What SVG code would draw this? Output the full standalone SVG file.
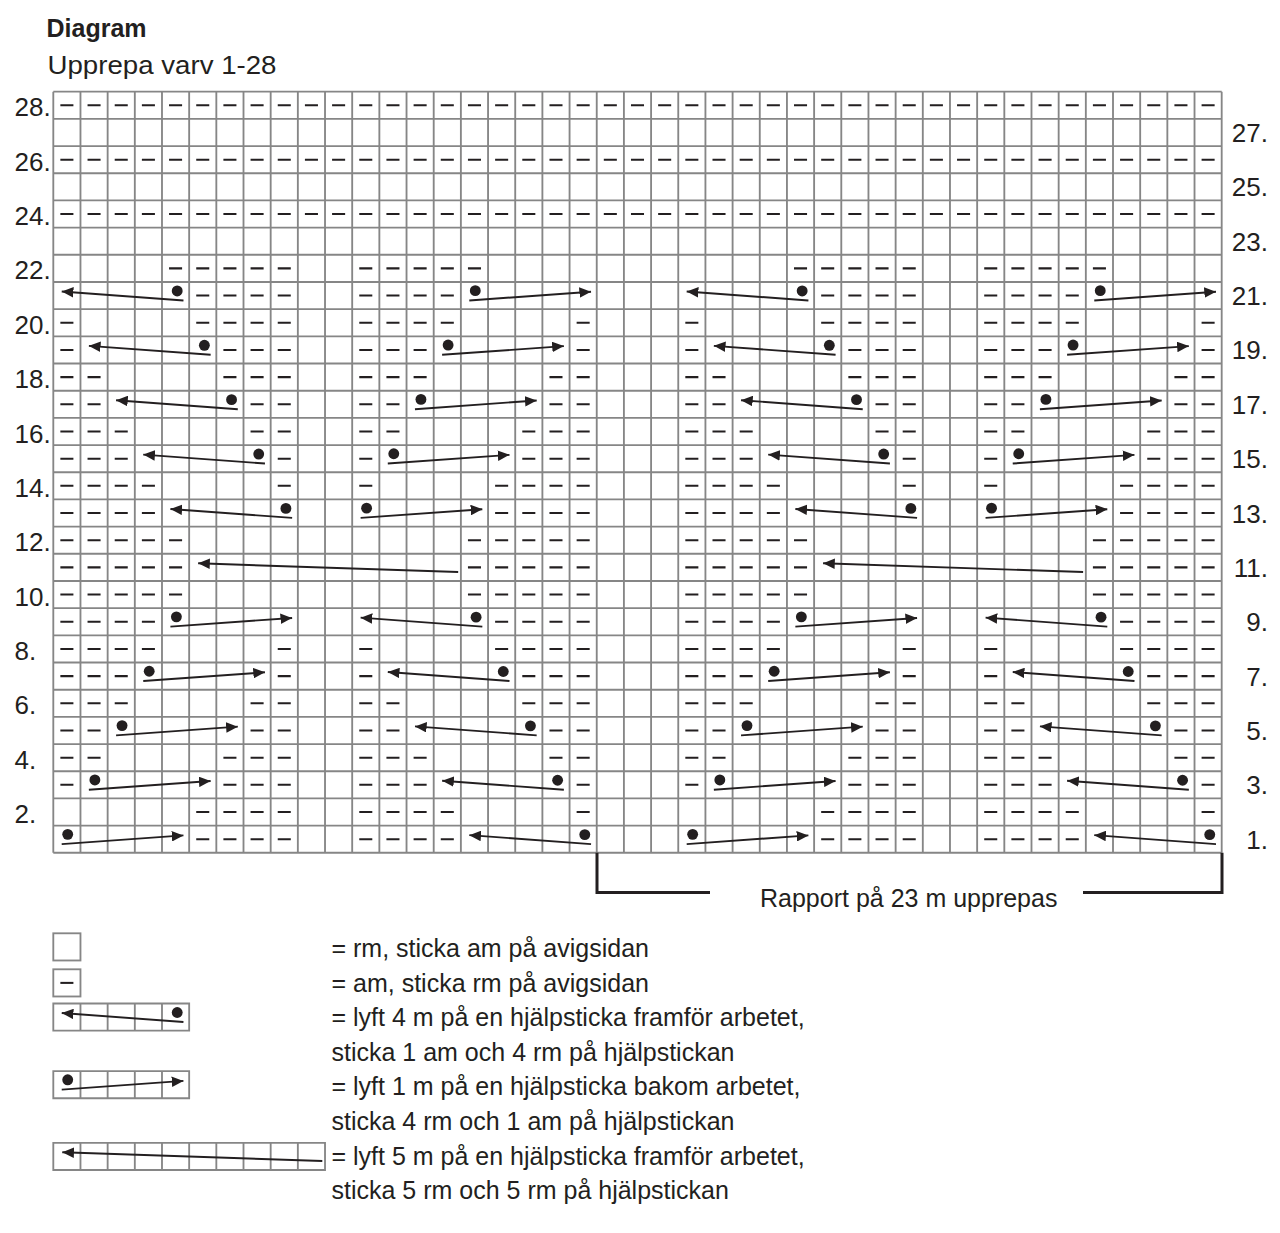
<svg xmlns="http://www.w3.org/2000/svg" xmlns:xlink="http://www.w3.org/1999/xlink" width="1280" height="1233" viewBox="0 0 1280 1233">
<style>
.t{font-family:"Liberation Sans",Arial,sans-serif;fill:#231f20}
.grid{fill:none;stroke:#868686;stroke-width:0.068}
.dr{fill:none;stroke:#231f20;stroke-width:0.075;stroke-dasharray:0.48 0.52;stroke-dashoffset:0.74}
.ln{fill:none;stroke:#231f20;stroke-width:0.07}
.dot{fill:#231f20}
.br{fill:none;stroke:#231f20;stroke-width:3}
</style>
<defs>
<marker id="ah" viewBox="0 0 10 9" refX="10" refY="4.5" markerUnits="userSpaceOnUse" markerWidth="0.43" markerHeight="0.387" orient="auto"><path d="M0 0L10 4.5L0 9z" fill="#231f20"/></marker>
<g id="cA"><path class="ln" d="M4.79 0.68L0.31 0.35" marker-end="url(#ah)"/><circle class="dot" cx="4.56" cy="0.33" r="0.2"/></g>
<g id="cB"><path class="ln" d="M0.31 0.68L4.79 0.36" marker-end="url(#ah)"/><circle class="dot" cx="0.53" cy="0.32" r="0.2"/></g>
<g id="cC"><path class="ln" d="M9.9 0.67L0.33 0.35" marker-end="url(#ah)"/></g>
<g id="rep">
<path class="dr" d="M8 27.5H12M14 27.5H18M8 26.5H12M14 26.5H18M22 26.5H23M3 25.5H4M9 25.5H12M14 25.5H17M22 25.5H23M3 24.5H5M9 24.5H12M14 24.5H17M21 24.5H23M3 23.5H5M10 23.5H12M14 23.5H16M21 23.5H23M3 22.5H6M10 22.5H12M14 22.5H16M20 22.5H23M3 21.5H6M11 21.5H12M14 21.5H15M20 21.5H23M3 20.5H7M11 20.5H12M14 20.5H15M19 20.5H23M3 19.5H7M19 19.5H23M3 18.5H8M18 18.5H23M3 17.5H8M18 17.5H23M3 16.5H8M18 16.5H23M3 15.5H7M19 15.5H23M3 14.5H7M11 14.5H12M14 14.5H15M19 14.5H23M3 13.5H6M11 13.5H12M14 13.5H15M20 13.5H23M3 12.5H6M10 12.5H12M14 12.5H16M20 12.5H23M3 11.5H5M10 11.5H12M14 11.5H16M21 11.5H23M3 10.5H5M9 10.5H12M14 10.5H17M21 10.5H23M3 9.5H4M9 9.5H12M14 9.5H17M22 9.5H23M3 8.5H4M8 8.5H12M14 8.5H18M22 8.5H23M8 7.5H12M14 7.5H18M7 6.5H12M14 6.5H19"/>
<use href="#cB" x="3" y="27"/><use href="#cA" x="18" y="27"/>
<use href="#cB" x="4" y="25"/><use href="#cA" x="17" y="25"/>
<use href="#cB" x="5" y="23"/><use href="#cA" x="16" y="23"/>
<use href="#cB" x="6" y="21"/><use href="#cA" x="15" y="21"/>
<use href="#cB" x="7" y="19"/><use href="#cA" x="14" y="19"/>
<use href="#cC" x="8" y="17"/>
<use href="#cA" x="7" y="15"/><use href="#cB" x="14" y="15"/>
<use href="#cA" x="6" y="13"/><use href="#cB" x="15" y="13"/>
<use href="#cA" x="5" y="11"/><use href="#cB" x="16" y="11"/>
<use href="#cA" x="4" y="9"/><use href="#cB" x="17" y="9"/>
<use href="#cA" x="3" y="7"/><use href="#cB" x="18" y="7"/>
</g>
</defs>
<rect width="1280" height="1233" fill="#ffffff"/>
<g id="title">
<text class="t" x="46.5" y="37.3" font-size="25" font-weight="bold">Diagram</text>
<text class="t" x="47.5" y="74" font-size="25.5" textLength="229" lengthAdjust="spacingAndGlyphs">Upprepa varv 1-28</text>
</g>
<g id="chart" transform="translate(53.3 91.7) scale(27.172 27.182)">
<path class="grid" d="M0 0V28M1 0V28M2 0V28M3 0V28M4 0V28M5 0V28M6 0V28M7 0V28M8 0V28M9 0V28M10 0V28M11 0V28M12 0V28M13 0V28M14 0V28M15 0V28M16 0V28M17 0V28M18 0V28M19 0V28M20 0V28M21 0V28M22 0V28M23 0V28M24 0V28M25 0V28M26 0V28M27 0V28M28 0V28M29 0V28M30 0V28M31 0V28M32 0V28M33 0V28M34 0V28M35 0V28M36 0V28M37 0V28M38 0V28M39 0V28M40 0V28M41 0V28M42 0V28M43 0V28M0 0H43M0 1H43M0 2H43M0 3H43M0 4H43M0 5H43M0 6H43M0 7H43M0 8H43M0 9H43M0 10H43M0 11H43M0 12H43M0 13H43M0 14H43M0 15H43M0 16H43M0 17H43M0 18H43M0 19H43M0 20H43M0 21H43M0 22H43M0 23H43M0 24H43M0 25H43M0 26H43M0 27H43M0 28H43"/>
<path class="dr" d="M0 0.5H43M0 2.5H43M0 4.5H43"/>
<use href="#rep" x="-3" y="0"/>
<use href="#rep" x="20" y="0"/>
</g>
<g id="rows-left" class="t" font-size="26">
<text class="t" x="14.5" y="116.3">28.</text>
<text class="t" x="14.5" y="170.7">26.</text>
<text class="t" x="14.5" y="225">24.</text>
<text class="t" x="14.5" y="279.4">22.</text>
<text class="t" x="14.5" y="333.8">20.</text>
<text class="t" x="14.5" y="388.1">18.</text>
<text class="t" x="14.5" y="442.5">16.</text>
<text class="t" x="14.5" y="496.8">14.</text>
<text class="t" x="14.5" y="551.2">12.</text>
<text class="t" x="14.5" y="605.6">10.</text>
<text class="t" x="14.5" y="659.9">8.</text>
<text class="t" x="14.5" y="714.3">6.</text>
<text class="t" x="14.5" y="768.6">4.</text>
<text class="t" x="14.5" y="823">2.</text>
</g>
<g id="rows-right" class="t" font-size="26" text-anchor="end">
<text class="t" x="1268" y="142">27.</text>
<text class="t" x="1268" y="196.3">25.</text>
<text class="t" x="1268" y="250.7">23.</text>
<text class="t" x="1268" y="305.1">21.</text>
<text class="t" x="1268" y="359.4">19.</text>
<text class="t" x="1268" y="413.8">17.</text>
<text class="t" x="1268" y="468.2">15.</text>
<text class="t" x="1268" y="522.5">13.</text>
<text class="t" x="1268" y="576.9">11.</text>
<text class="t" x="1268" y="631.2">9.</text>
<text class="t" x="1268" y="685.6">7.</text>
<text class="t" x="1268" y="740">5.</text>
<text class="t" x="1268" y="794.3">3.</text>
<text class="t" x="1268" y="848.7">1.</text>
</g>
<g id="repeat-bracket">
<path class="br" d="M597 852.8V892.5H710M1083 892.5H1222V852.8"/>
<text class="t" x="760" y="907" font-size="25">Rapport på 23 m upprepas</text>
</g>
<g id="legend">
<g id="key-knit" transform="translate(53.3 933.3) scale(27.172 27.182)"><rect class="grid" x="0" y="0" width="1" height="1"/></g>
<g id="key-purl" transform="translate(53.3 969.3) scale(27.172 27.182)"><rect class="grid" x="0" y="0" width="1" height="1"/><path class="dr" d="M0 0.5H1"/></g>
<g id="key-a" transform="translate(53.3 1003.5) scale(27.172 27.182)"><path class="grid" d="M0 0H5V1H0ZM1 0V1M2 0V1M3 0V1M4 0V1"/><use href="#cA"/></g>
<g id="key-b" transform="translate(53.3 1071.1) scale(27.172 27.182)"><path class="grid" d="M0 0H5V1H0ZM1 0V1M2 0V1M3 0V1M4 0V1"/><use href="#cB"/></g>
<g id="key-c" transform="translate(53.3 1142.8) scale(27.172 27.182)"><path class="grid" d="M0 0H10V1H0ZM1 0V1M2 0V1M3 0V1M4 0V1M5 0V1M6 0V1M7 0V1M8 0V1M9 0V1"/><use href="#cC"/></g>
<g id="legend-text" class="t" font-size="25">
<text class="t" x="331.5" y="957.3">= rm, sticka am på avigsidan</text>
<text class="t" x="331.5" y="991.8">= am, sticka rm på avigsidan</text>
<text class="t" x="331.5" y="1026.3">= lyft 4 m på en hjälpsticka framför arbetet,</text>
<text class="t" x="331.5" y="1060.8">sticka 1 am och 4 rm på hjälpstickan</text>
<text class="t" x="331.5" y="1095.3">= lyft 1 m på en hjälpsticka bakom arbetet,</text>
<text class="t" x="331.5" y="1129.8">sticka 4 rm och 1 am på hjälpstickan</text>
<text class="t" x="331.5" y="1164.5">= lyft 5 m på en hjälpsticka framför arbetet,</text>
<text class="t" x="331.5" y="1199">sticka 5 rm och 5 rm på hjälpstickan</text>
</g>
</g>
</svg>
